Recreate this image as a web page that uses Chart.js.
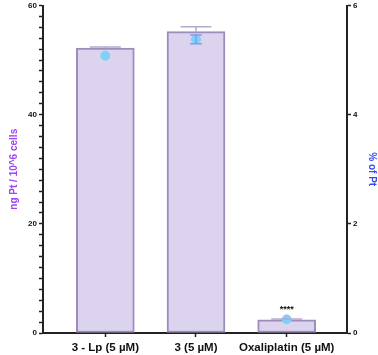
<!DOCTYPE html>
<html lang="en">
<head>
    <meta charset="UTF-8">
    <title>Pt uptake</title>
    <script src="https://cdn.jsdelivr.net/npm/chart.js"></script>
    <style>
        html, body { margin: 0; padding: 0; background: #fff; }
        #wrap { width: 378px; height: 355px; }
    </style>
</head>
<body>
    <div id="wrap"><canvas id="ptChart"></canvas></div>

    <script>
        // data
        const categories = ['3 - Lp (5 \u00b5M)', '3 (5 \u00b5M)', 'Oxaliplatin (5 \u00b5M)'];
        const ngPt = [52.2, 55.2, 2.43];        // ng Pt / 10^6 cells (bars, left axis)
        const ngPtErr = [0.2, 0.9, 0.12];        // upper error only
        const pctPt = [5.08, 5.38, 0.25];        // % of Pt (points, right axis)
        const pctPtErr = [0, 0.08, 0];
        const leftTicks = [0, 20, 40, 60];
        const rightTicks = [0, 2, 4, 6];
        const stars = ['', '', '****'];

        const FONT = 'Liberation Sans, Arial, sans-serif';

        // error bars + significance stars
        const errorBars = {
            id: 'errorBars',
            afterDatasetsDraw(chart) {
                const ctx = chart.ctx;
                const x = chart.scales.x, yL = chart.scales.y, yR = chart.scales.y2;
                ctx.save();
                ngPt.forEach((v, i) => {
                    const px = x.getPixelForValue(i);
                    const top = yL.getPixelForValue(v);
                    const up = yL.getPixelForValue(v + ngPtErr[i]);
                    ctx.strokeStyle = '#b4aad0';
                    ctx.lineWidth = 1.5;
                    ctx.beginPath();
                    ctx.moveTo(px, top); ctx.lineTo(px, up);
                    ctx.moveTo(px - 15.5, up); ctx.lineTo(px + 15.5, up);
                    ctx.stroke();
                    if (stars[i]) {
                        ctx.fillStyle = '#111';
                        ctx.font = 'bold 9px ' + FONT;
                        ctx.textAlign = 'center';
                        ctx.textBaseline = 'middle';
                        ctx.fillText(stars[i], px, up - 10);
                    }
                });
                pctPt.forEach((v, i) => {
                    if (!pctPtErr[i]) return;
                    const px = x.getPixelForValue(i);
                    const hi = yR.getPixelForValue(v + pctPtErr[i]);
                    const lo = yR.getPixelForValue(v - pctPtErr[i]);
                    ctx.strokeStyle = '#7f9cf2';
                    ctx.lineWidth = 1.5;
                    ctx.beginPath();
                    ctx.moveTo(px, hi); ctx.lineTo(px, lo);
                    ctx.moveTo(px - 6, hi); ctx.lineTo(px + 6, hi);
                    ctx.moveTo(px - 6, lo); ctx.lineTo(px + 6, lo);
                    ctx.stroke();
                });
                ctx.restore();
            }
        };

        const tickFont = { family: FONT, size: 8, weight: 'bold' };

        new Chart(document.getElementById('ptChart'), {
            data: {
                datasets: [
                    {
                        type: 'scatter',
                        data: pctPt.map((v, i) => ({ x: i, y: v })),
                        yAxisID: 'y2',
                        backgroundColor: '#80d0f8',
                        borderColor: '#80d0f8',
                        pointRadius: 4.5,
                        pointHoverRadius: 4.5,
                        order: 0
                    },
                    {
                        type: 'bar',
                        data: ngPt.map((v, i) => ({ x: i, y: v })),
                        yAxisID: 'y',
                        backgroundColor: '#dcd4ee',
                        borderColor: '#9c8dbb',
                        borderWidth: 2,
                        borderSkipped: false,
                        barThickness: 58,
                        order: 1
                    }
                ]
            },
            options: {
                responsive: true,
                maintainAspectRatio: false,
                animation: false,
                layout: { padding: { top: 5, left: 0, right: 0, bottom: 0 } },
                plugins: { legend: { display: false }, tooltip: { enabled: false } },
                scales: {
                    x: {
                        type: 'linear',
                        offset: false,
                        min: -0.687,
                        max: 2.665,
                        afterBuildTicks: s => { s.ticks = categories.map((_, i) => ({ value: i })); },
                        afterFit: s => { s.height = 22; },
                        ticks: {
                            autoSkip: false,
                            maxRotation: 0,
                            padding: 4,
                            color: '#111',
                            font: { family: FONT, size: 11.5, weight: 'bold' },
                            callback: v => categories[v]
                        },
                        grid: { offset: false, drawOnChartArea: false, drawTicks: true, tickLength: 4, tickWidth: 1.5, tickColor: '#222' },
                        border: { display: true, color: '#222', width: 2 }
                    },
                    y: {
                        position: 'left',
                        min: 0,
                        max: 60,
                        afterBuildTicks: s => {
                            const t = [];
                            for (let v = 0; v <= 60; v += 2) t.push({ value: v });
                            s.ticks = t;
                        },
                        afterFit: s => { s.width = 43; s.paddingTop = 0; s.paddingBottom = 0; },
                        ticks: {
                            autoSkip: false,
                            padding: 2,
                            color: '#111',
                            font: tickFont,
                            callback: v => leftTicks.includes(v) ? v : ''
                        },
                        grid: { drawOnChartArea: false, drawTicks: true, tickLength: 4, tickWidth: 1.5, tickColor: '#222' },
                        border: { display: true, color: '#222', width: 2 },
                        title: {
                            display: true,
                            text: 'ng Pt / 10^6 cells',
                            color: '#a044f5',
                            font: { family: FONT, size: 10, weight: 'bold' },
                            padding: { top: 8, bottom: 0 }
                        }
                    },
                    y2: {
                        position: 'right',
                        min: 0,
                        max: 6,
                        afterBuildTicks: s => { s.ticks = rightTicks.map(v => ({ value: v })); },
                        afterFit: s => { s.width = 31; s.paddingTop = 0; s.paddingBottom = 0; },
                        ticks: {
                            autoSkip: false,
                            padding: 2,
                            color: '#111',
                            font: tickFont
                        },
                        grid: { drawOnChartArea: false, drawTicks: true, tickLength: 4, tickWidth: 1.5, tickColor: '#222' },
                        border: { display: true, color: '#222', width: 2 },
                        title: {
                            display: true,
                            text: '% of Pt',
                            color: '#2f4cf5',
                            font: { family: FONT, size: 10, weight: 'bold' },
                            padding: { top: 0, bottom: 0 }
                        }
                    }
                }
            },
            plugins: [errorBars]
        });
    </script>
</body>
</html>
